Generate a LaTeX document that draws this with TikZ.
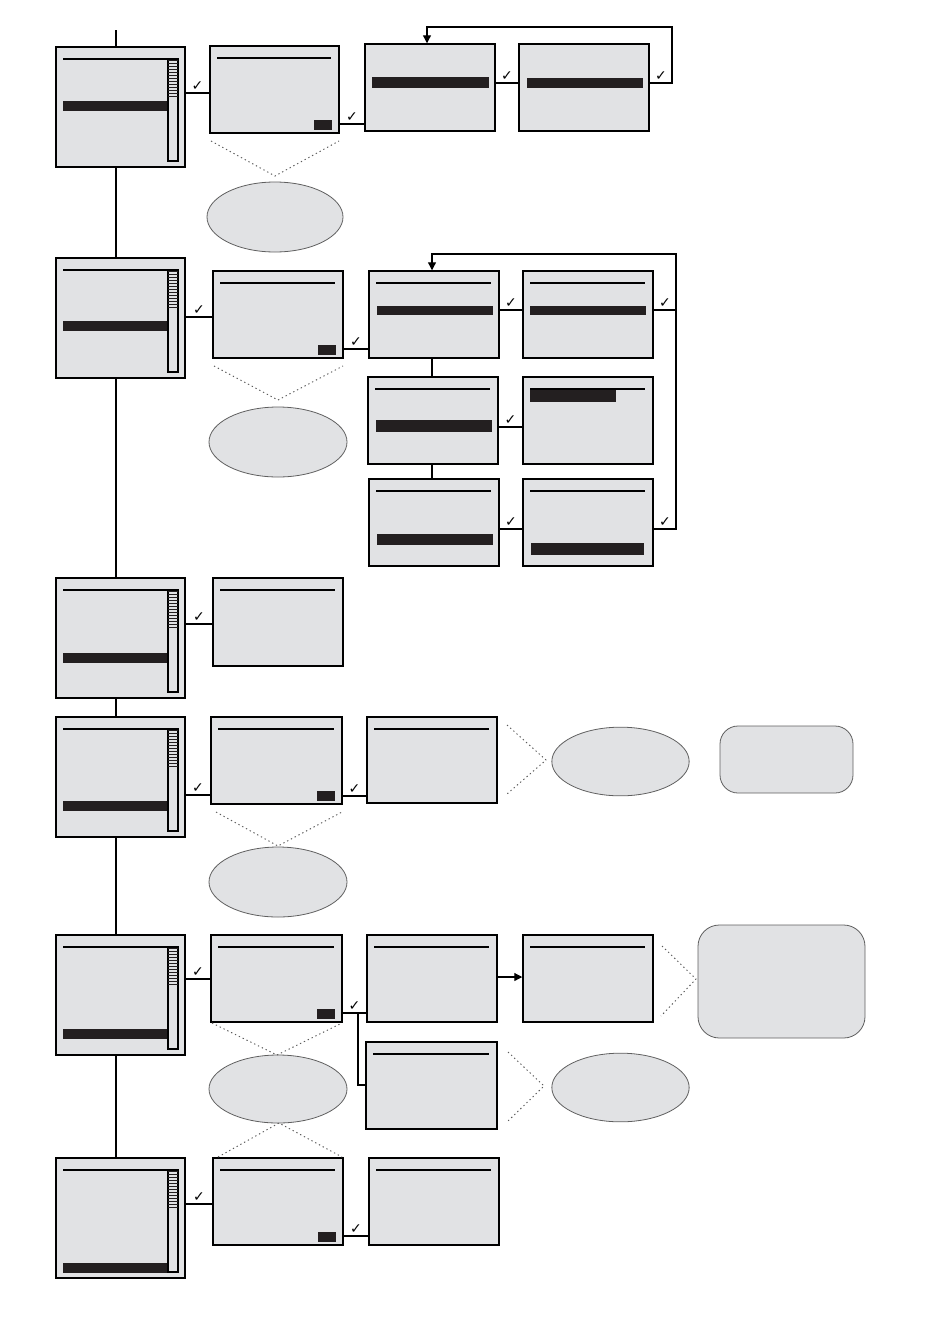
\documentclass[tikz,border=0pt]{standalone}
\usepackage{fontspec}
\newfontfamily\symfont{DejaVu Sans}
\usetikzlibrary{arrows.meta,fit,shapes.geometric}
\definecolor{scrfill}{RGB}{225,226,228}
\definecolor{barblack}{RGB}{35,31,32}
\definecolor{ovlline}{RGB}{95,95,95}
\definecolor{dotgray}{RGB}{90,90,90}

% menu screen with scrollbar: name, x1, y1, bar top
\newcommand\menuscr[4]{%
  \node[screen, fit={(#2,#3) (#2+129,#3+120)}] (#1) {};
  \draw[hdr] (#2+7,#3+12) -- (#2+122,#3+12);
  \draw[line width=0.8pt] (#2+112,#3+12) rectangle (#2+122,#3+114);
  \foreach \k in {0,...,12} \draw[line width=1.35pt, barblack] (#2+112,#3+13.5+3*\k) -- (#2+122,#3+13.5+3*\k);
  \fill[barblack] (#2+7,#4) rectangle (#2+111,#4+10);
}
% plain screen: name, x1, y1, x2, y2
\newcommand\plainscr[5]{%
  \node[screen, fit={(#2,#3) (#4,#5)}] (#1) {};
}
% screen with header line
\newcommand\hdrscr[5]{%
  \node[screen, fit={(#2,#3) (#4,#5)}] (#1) {};
  \draw[hdr] (#2+7,#3+12) -- (#4-8,#3+12);
}
\newcommand\btn[2]{\fill[barblack] (#1-25,#2-13) rectangle (#1-7,#2-3);}
\newcommand\hlbar[4]{\fill[barblack] (#1,#2) rectangle (#3,#4);}

\begin{document}
\begin{tikzpicture}[x=0.75pt,y=-0.75pt,
  screen/.style={draw=black, line width=1.1pt, fill=scrfill, inner sep=0pt},
  hdr/.style={line width=0.8pt},
  link/.style={line width=0.9pt},
  chk/.style={above, inner sep=0.8pt, yshift=0.3pt, font=\symfont\fontsize{10.5}{10.5}\selectfont},
  dots/.style={line width=0.7pt, draw=dotgray, dash pattern=on 1pt off 2.2pt},
  oval/.style={ellipse, draw=ovlline, line width=0.6pt, fill=scrfill, inner sep=0pt},
  note/.style={draw=ovlline, line width=0.6pt, fill=scrfill, inner sep=0pt},
  arr/.style={-{Triangle[length=6pt,width=6pt]}}
]
\useasboundingbox (0,0) rectangle (950,1328);

% ---------- left column menus ----------
\menuscr{L1}{56}{47}{101}
\menuscr{L2}{56}{258}{321}
\menuscr{L3}{56}{578}{653}
\menuscr{L4}{56}{717}{801}
\menuscr{L5}{56}{935}{1029}
\menuscr{L6}{56}{1158}{1263}

% ---------- second column screens ----------
\hdrscr{S1}{210}{46}{339}{133}  \btn{339}{133}
\hdrscr{S2}{213}{271}{343}{358} \btn{343}{358}
\hdrscr{S3}{213}{578}{343}{666}
\hdrscr{S4}{211}{717}{342}{804} \btn{342}{804}
\hdrscr{S5}{211}{935}{342}{1022} \btn{342}{1022}
\hdrscr{S6}{213}{1158}{343}{1245} \btn{343}{1245}

% ---------- row 1 right ----------
\plainscr{A1}{365}{44}{495}{131} \hlbar{372}{77}{489}{88}
\plainscr{B1}{519}{44}{649}{131} \hlbar{527}{78}{643}{88}

% ---------- row 2 grid ----------
\hdrscr{A2}{369}{271}{499}{358} \hlbar{377}{306}{493}{315}
\hdrscr{B2}{523}{271}{653}{358} \hlbar{530}{306}{646}{315}
\hdrscr{C2}{368}{377}{498}{464} \hlbar{376}{420}{492}{432}
\hdrscr{D2}{523}{377}{653}{464} \hlbar{530}{390}{616}{402}
\hdrscr{G2}{369}{479}{499}{566} \hlbar{377}{534}{493}{545}
\hdrscr{F2}{523}{479}{653}{566} \hlbar{531}{543}{644}{555}

% ---------- rows 4-6 right ----------
\hdrscr{A4}{367}{717}{497}{803}
\hdrscr{A5}{367}{935}{497}{1022}
\hdrscr{B5}{523}{935}{653}{1022}
\hdrscr{C5}{366}{1042}{497}{1129}
\hdrscr{A6}{369}{1158}{499}{1245}

% ---------- ellipses and notes ----------
\node[oval, minimum width=102pt, minimum height=52.5pt] (O1) at (275,217) {};
\node[oval, minimum width=103.5pt, minimum height=52.5pt] (O2) at (278,442) {};
\node[oval, minimum width=103.5pt, minimum height=52.5pt] (O4) at (278,882) {};
\node[oval, minimum width=103.5pt, minimum height=51pt] (O5) at (278,1089) {};
\node[oval, minimum width=103pt, minimum height=51.5pt] (O4r) at (620.5,761.5) {};
\node[oval, minimum width=103pt, minimum height=51.5pt] (O5c) at (620.5,1087.5) {};
\node[note, rounded corners=13.5pt, fit={(720,726) (853,793)}] (R4) {};
\node[note, rounded corners=16pt, fit={(698,925) (865,1038)}] (R5) {};

% ---------- spine ----------
\coordinate (top) at (116,30);
\draw[link] (top) -- (top |- L1.north);
\draw[link] (L1.south -| top) -- (L2.north -| top);
\draw[link] (L2.south -| top) -- (L3.north -| top);
\draw[link] (L3.south -| top) -- (L4.north -| top);
\draw[link] (L4.south -| top) -- (L5.north -| top);
\draw[link] (L5.south -| top) -- (L6.north -| top);

% ---------- row 1 connectors ----------
\draw[link] (L1.east |- 0,93) -- node[chk]{✓} (S1.west |- 0,93);
\draw[link] (S1.east |- 0,124) -- node[chk]{✓} (A1.west |- 0,124);
\draw[link] (A1.east |- 0,83) -- node[chk]{✓} (B1.west |- 0,83);
\draw[link, arr] (B1.east |- 0,83) -- node[chk]{✓} (672,83) -- (672,27) -- (427,27) -- (A1.north -| 427,0);

% ---------- row 2 connectors ----------
\draw[link] (L2.east |- 0,317) -- node[chk]{✓} (S2.west |- 0,317);
\draw[link] (S2.east |- 0,349) -- node[chk]{✓} (A2.west |- 0,349);
\draw[link] (A2.east |- 0,310) -- node[chk]{✓} (B2.west |- 0,310);
\draw[link] (B2.east |- 0,310) -- node[chk]{✓} (676,310);
\draw[link, arr] (F2.east |- 0,529) -- node[chk]{✓} (676,529) -- (676,254) -- (432,254) -- (A2.north -| 432,0);
\draw[link] (A2.south -| 432,0) -- (C2.north -| 432,0);
\draw[link] (C2.south -| 432,0) -- (G2.north -| 432,0);
\draw[link] (C2.east |- 0,427) -- node[chk]{✓} (D2.west |- 0,427);
\draw[link] (G2.east |- 0,529) -- node[chk]{✓} (F2.west |- 0,529);

% ---------- row 3 ----------
\draw[link] (L3.east |- 0,624) -- node[chk]{✓} (S3.west |- 0,624);

% ---------- row 4 ----------
\draw[link] (L4.east |- 0,795) -- node[chk]{✓} (S4.west |- 0,795);
\draw[link] (S4.east |- 0,796) -- node[chk]{✓} (A4.west |- 0,796);

% ---------- row 5 ----------
\draw[link] (L5.east |- 0,979) -- node[chk]{✓} (S5.west |- 0,979);
\draw[link] (S5.east |- 0,1013) -- node[chk]{✓} (A5.west |- 0,1013);
\coordinate (br) at (358,1013);
\draw[link] (br) -- (br |- 0,1085) -- (C5.west |- 0,1085);
\draw[link, arr] (A5.east |- 0,977) -- (B5.west |- 0,977);

% ---------- row 6 ----------
\draw[link] (L6.east |- 0,1204) -- node[chk]{✓} (S6.west |- 0,1204);
\draw[link] (S6.east |- 0,1236) -- node[chk]{✓} (A6.west |- 0,1236);

% ---------- dotted callouts ----------
\coordinate (d1a) at (211,141); \coordinate (d1p) at (275,176); \coordinate (d1b) at (339,141);
\draw[dots] (d1a) -- (d1p) -- (d1b);
\coordinate (d2a) at (214,366); \coordinate (d2p) at (278,400); \coordinate (d2b) at (343,366);
\draw[dots] (d2a) -- (d2p) -- (d2b);
\coordinate (d4a) at (216,812); \coordinate (d4p) at (278,846); \coordinate (d4b) at (342,812);
\draw[dots] (d4a) -- (d4p) -- (d4b);
\coordinate (d5a) at (212,1023); \coordinate (d5p) at (277,1055); \coordinate (d5b) at (342,1023);
\draw[dots] (d5a) -- (d5p) -- (d5b);
\coordinate (d6a) at (218,1157); \coordinate (d6p) at (279,1123); \coordinate (d6b) at (342,1157);
\draw[dots] (d6a) -- (d6p) -- (d6b);
\coordinate (r4a) at (507,725); \coordinate (r4p) at (546,760); \coordinate (r4b) at (507,794);
\draw[dots] (r4a) -- (r4p) -- (r4b);
\coordinate (r5a) at (662,946); \coordinate (r5p) at (696,979); \coordinate (r5b) at (661,1016);
\draw[dots] (r5a) -- (r5p) -- (r5b);
\coordinate (c5a) at (508,1052); \coordinate (c5p) at (544,1086); \coordinate (c5b) at (507,1122);
\draw[dots] (c5a) -- (c5p) -- (c5b);
\end{tikzpicture}
\end{document}
